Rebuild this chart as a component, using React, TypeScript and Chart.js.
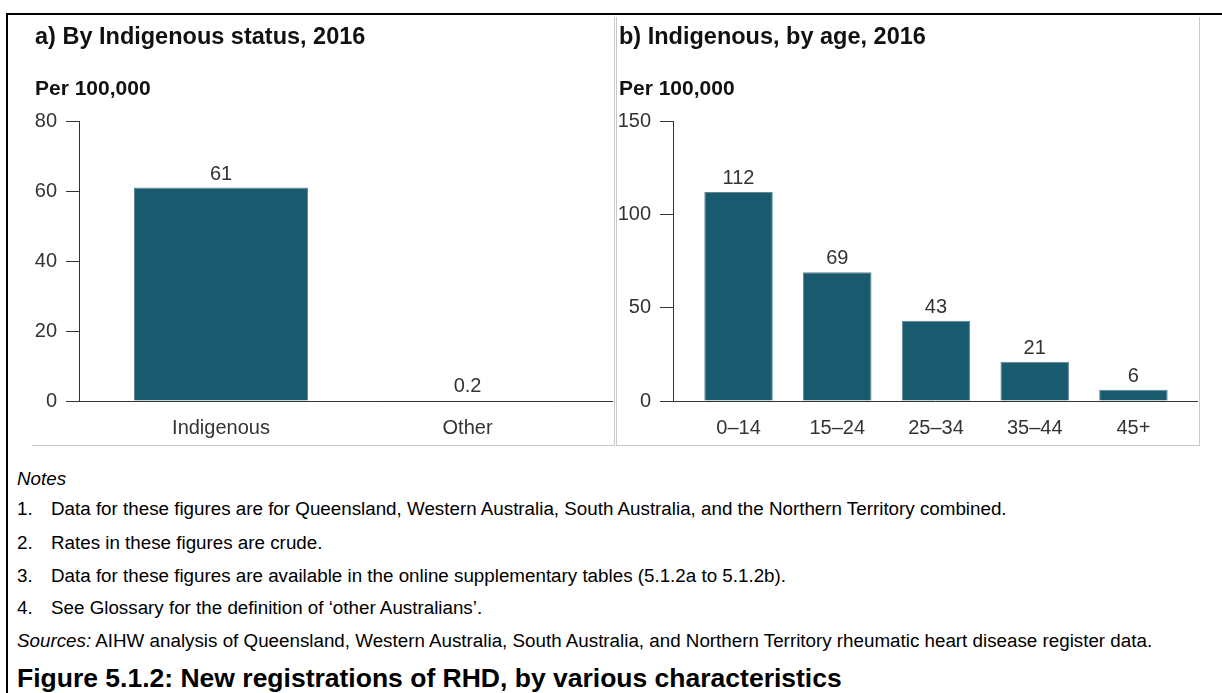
import React, { useEffect, useRef } from 'react';
import { Chart, registerables } from 'chart.js';

Chart.register(...registerables);

const FONT = '"Liberation Sans", Arial, Helvetica, sans-serif';

// Panel a
const statusTitle = 'a) By Indigenous status, 2016';
const statusCategories = ['Indigenous', 'Other'];
const statusValues = [61, 0.2];
const statusTicks = [0, 20, 40, 60, 80];

// Panel b
const ageTitle = 'b) Indigenous, by age, 2016';
const ageCategories = ['0–14', '15–24', '25–34', '35–44', '45+'];
const ageValues = [112, 69, 43, 21, 6];
const ageTicks = [0, 50, 100, 150];

const yAxisTitle = 'Per 100,000';

const noteItems = [
  'Data for these figures are for Queensland, Western Australia, South Australia, and the Northern Territory combined.',
  'Rates in these figures are crude.',
  'Data for these figures are available in the online supplementary tables (5.1.2a to 5.1.2b).',
  'See Glossary for the definition of \u2018other Australians\u2019.',
];
const sourcesText =
  'AIHW analysis of Queensland, Western Australia, South Australia, and Northern Territory rheumatic heart disease register data.';
const figureTitle = 'Figure 5.1.2: New registrations of RHD, by various characteristics';

const BAR_COLOR = '#1a5a6e';
const TEXT_COLOR = '#333333';

const valueLabels = {
  id: 'valueLabels',
  afterDatasetsDraw(chart: any) {
    const ctx = chart.ctx;
    const meta = chart.getDatasetMeta(0);
    ctx.save();
    ctx.font = `20px ${FONT}`;
    ctx.fillStyle = TEXT_COLOR;
    ctx.textAlign = 'center';
    ctx.textBaseline = 'alphabetic';
    meta.data.forEach((el: any, i: number) => {
      const v = chart.data.datasets[0].data[i].y;
      ctx.fillText(String(v), el.x, el.y - 8);
    });
    ctx.restore();
  },
};

type PanelProps = {
  title: string;
  categories: string[];
  values: number[];
  yTicks: number[];
  xMin: number;
  xMax: number;
  barPct: number;
  yAxisWidth: number;
  padLeft: number;
  left: number;
};

function Panel(props: PanelProps) {
  const ref = useRef<HTMLCanvasElement | null>(null);
  useEffect(() => {
    if (!ref.current) return;
    const { title, categories, values, yTicks, xMin, xMax, barPct, yAxisWidth, padLeft } = props;
    const chart = new Chart(ref.current, {
      type: 'bar',
      data: {
        datasets: [
          {
            data: categories.map((c, i) => ({ x: i, y: values[i] })),
            backgroundColor: BAR_COLOR,
            borderColor: '#5f8a98',
            borderWidth: 1,
            barPercentage: barPct,
            categoryPercentage: 1,
          },
        ],
      },
      options: {
        animation: false,
        responsive: false,
        maintainAspectRatio: false,
        layout: { padding: { left: padLeft, right: 2, top: 0, bottom: 0 } },
        plugins: {
          legend: { display: false },
          tooltip: { enabled: false },
          title: {
            display: true,
            text: title,
            align: 'start',
            color: '#111111',
            font: { family: FONT, size: 23.5, weight: 'bold' },
            padding: { top: 6, bottom: 0 },
          },
          subtitle: {
            display: true,
            text: yAxisTitle,
            align: 'start',
            color: '#111111',
            font: { family: FONT, size: 21, weight: 'bold' },
            padding: { top: 25.2, bottom: 19.4 },
          },
        },
        scales: {
          x: {
            type: 'linear',
            offset: false,
            min: xMin,
            max: xMax,
            afterBuildTicks: (s: any) => {
              s.ticks = categories.map((_, i) => ({ value: i }));
            },
            afterFit: (s: any) => {
              s.height = 44;
            },
            grid: { display: false, drawTicks: false, offset: false },
            border: { display: true, color: '#333333', width: 1 },
            ticks: {
              padding: 15,
              color: TEXT_COLOR,
              autoSkip: false,
              maxRotation: 0,
              font: { family: FONT, size: 20 },
              callback: (v: any) => categories[v] ?? '',
            },
          },
          y: {
            min: yTicks[0],
            max: yTicks[yTicks.length - 1],
            afterBuildTicks: (s: any) => {
              s.ticks = yTicks.map((v) => ({ value: v }));
            },
            afterFit: (s: any) => {
              s.width = yAxisWidth;
            },
            grid: { drawOnChartArea: false, drawTicks: true, tickLength: 13, color: '#333333' },
            border: { display: true, color: '#333333', width: 1 },
            ticks: { padding: 9, color: TEXT_COLOR, font: { family: FONT, size: 20 } },
          },
        },
      },
      plugins: [valueLabels],
    } as any);
    return () => chart.destroy();
  }, []);
  return (
    <canvas
      ref={ref}
      width={582}
      height={428}
      style={{ position: 'absolute', left: props.left, top: 17, width: 582, height: 428, display: 'block' }}
    />
  );
}

const lineStyle = (top: number, left: number): React.CSSProperties => ({
  position: 'absolute',
  top: top - 12,
  left,
  lineHeight: '24px',
  fontSize: 18.8,
  whiteSpace: 'nowrap',
  color: '#000',
});

export default function App() {
  const rowCenters = [509, 543, 576, 608];
  return (
    <div
      style={{
        position: 'fixed',
        left: 0,
        top: 0,
        width: 1222,
        height: 693,
        overflow: 'hidden',
        background: '#ffffff',
        fontFamily: FONT,
      }}
    >
      <div
        style={{
          position: 'absolute',
          left: 6,
          top: 13,
          width: 1400,
          height: 900,
          borderTop: '2px solid #000',
          borderLeft: '2px solid #000',
        }}
      />
      <div
        style={{
          position: 'absolute',
          left: 32,
          top: 17,
          width: 583,
          height: 429,
          boxSizing: 'border-box',
          borderRight: '1px solid #c8c8c8',
          borderBottom: '1px solid #c8c8c8',
        }}
      />
      <div
        style={{
          position: 'absolute',
          left: 616,
          top: 17,
          width: 584,
          height: 429,
          boxSizing: 'border-box',
          borderLeft: '1px solid #c8c8c8',
          borderRight: '1px solid #c8c8c8',
          borderBottom: '1px solid #c8c8c8',
        }}
      />
      <Panel
        title={statusTitle}
        categories={statusCategories}
        values={statusValues}
        yTicks={statusTicks}
        xMin={-0.576}
        xMax={1.586}
        barPct={0.706}
        yAxisWidth={44}
        padLeft={3}
        left={32}
      />
      <Panel
        title={ageTitle}
        categories={ageCategories}
        values={ageValues}
        yTicks={ageTicks}
        xMin={-0.664}
        xMax={4.644}
        barPct={0.694}
        yAxisWidth={54}
        padLeft={2}
        left={617}
      />
      <div style={{ ...lineStyle(479, 17), fontStyle: 'italic' }}>Notes</div>
      {noteItems.map((t, i) => (
        <React.Fragment key={i}>
          <div style={lineStyle(rowCenters[i], 17)}>{`${i + 1}.`}</div>
          <div style={lineStyle(rowCenters[i], 51)}>{t}</div>
        </React.Fragment>
      ))}
      <div style={lineStyle(641, 17)}>
        <span style={{ fontStyle: 'italic' }}>Sources:</span> {sourcesText}
      </div>
      <div
        style={{
          position: 'absolute',
          top: 678 - 15,
          left: 17,
          lineHeight: '30px',
          fontSize: 26.5,
          fontWeight: 'bold',
          whiteSpace: 'nowrap',
          color: '#000',
        }}
      >
        {figureTitle}
      </div>
    </div>
  );
}
